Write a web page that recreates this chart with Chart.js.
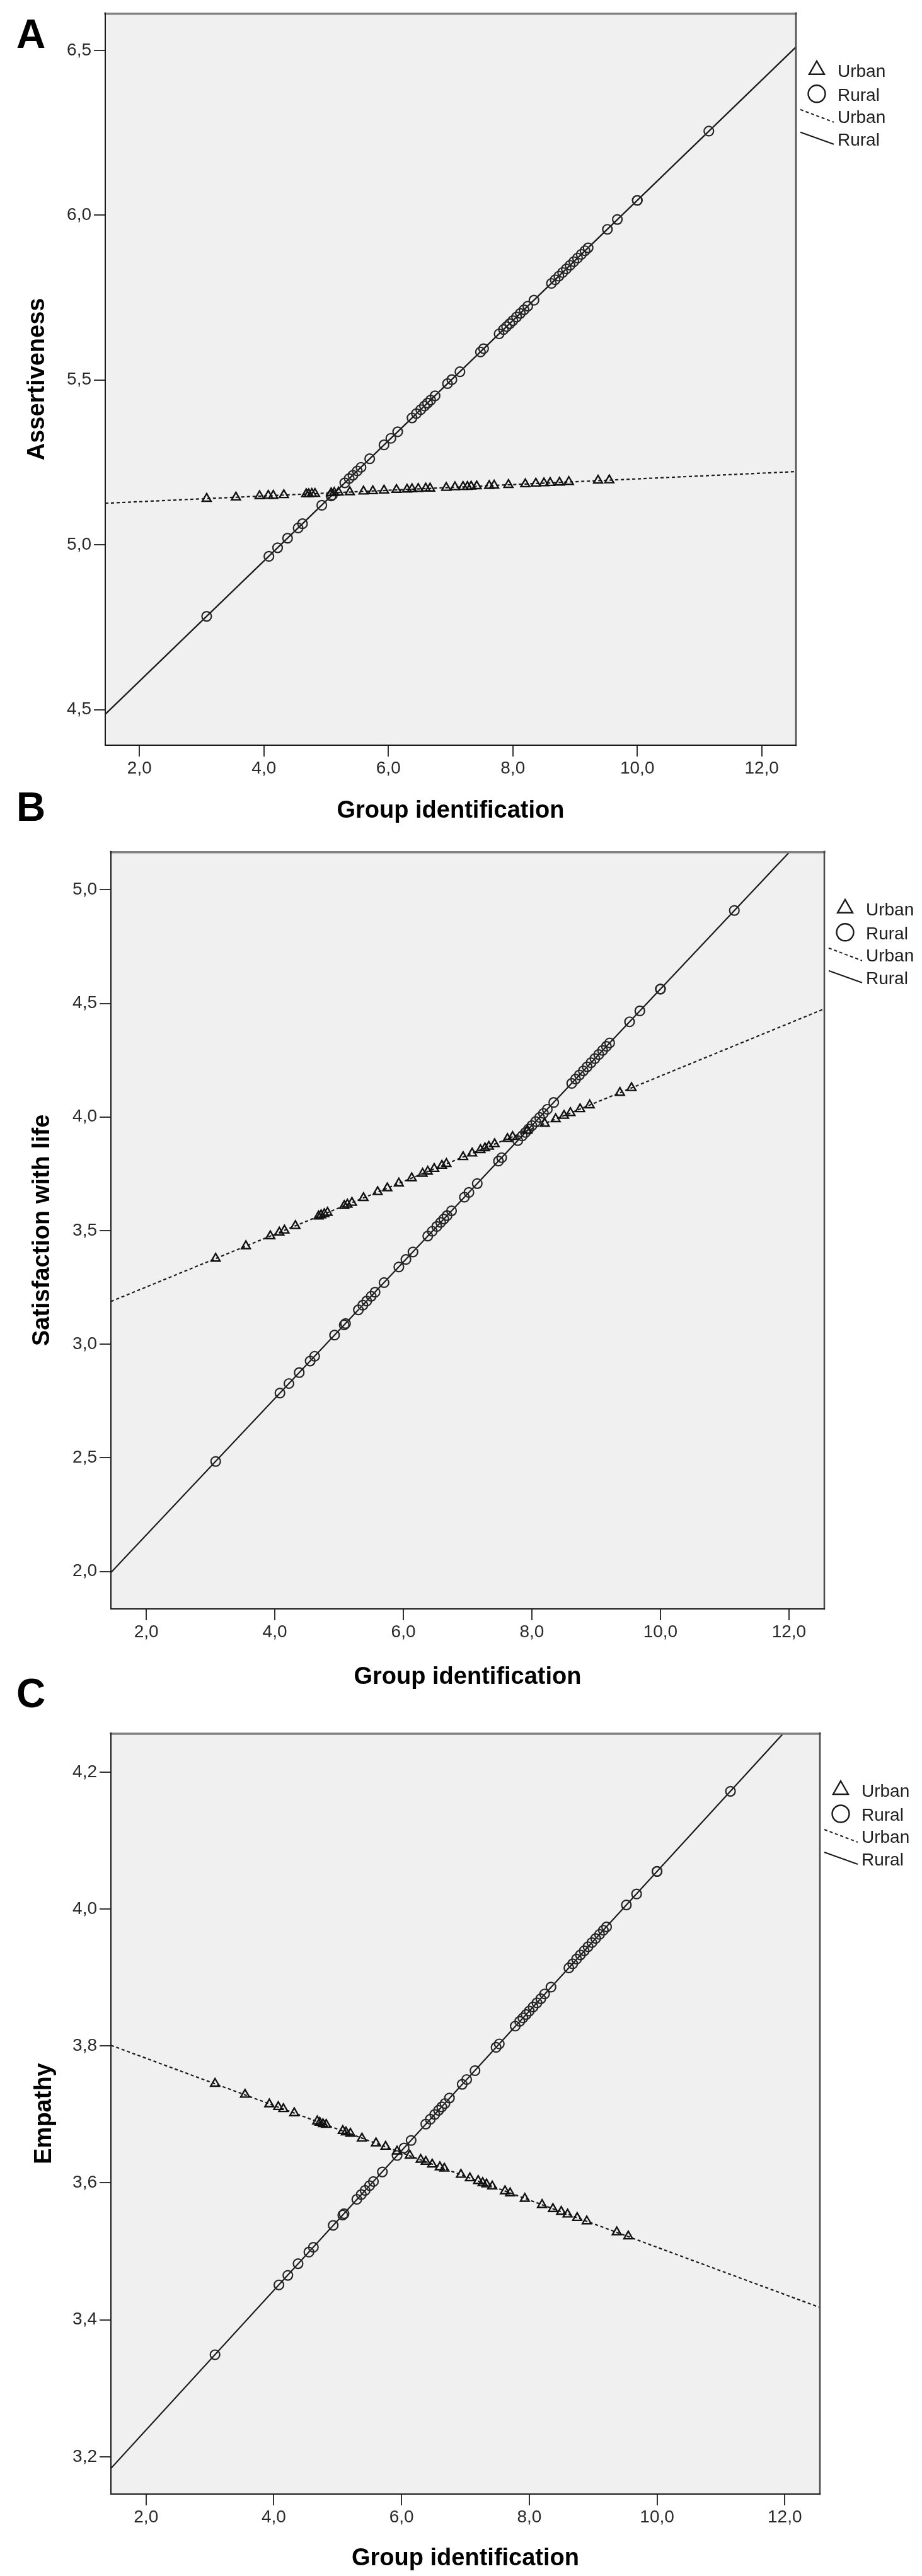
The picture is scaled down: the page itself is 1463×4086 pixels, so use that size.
<!DOCTYPE html>
<html>
<head>
<meta charset="utf-8">
<script src="https://cdn.jsdelivr.net/npm/chart.js@4"></script>
<style>
    html, body { margin: 0; padding: 0; background: #fff; }
    body { position: relative; width: 1463px; height: 4086px; overflow: hidden; }
    .panel { position: absolute; left: 0; width: 1463px; }
    .letter { position: absolute; left: 26px; font: bold 64px/1 "Liberation Sans", Arial, sans-serif; color: #000; }
</style>
</head>
<body>
<div class="letter" style="top:22px">A</div>
<div class="letter" style="top:1248px">B</div>
<div class="letter" style="top:2654px">C</div>
<div class="panel" style="top:0;height:1330px"><canvas id="chartA"></canvas></div>
<div class="panel" style="top:1330px;height:1370px"><canvas id="chartB"></canvas></div>
<div class="panel" style="top:2700px;height:1386px"><canvas id="chartC"></canvas></div>
<script>
    var FONT = '"Liberation Sans", Arial, sans-serif';

    // group identification scores (x) for each participant
    var urbanX = [3.08, 3.55, 3.93, 4.07, 4.15, 4.32, 4.68, 4.72, 4.77, 4.82, 5.08, 5.13, 5.20, 5.38, 5.60, 5.75, 5.93, 6.13, 6.30, 6.38,
                  6.48, 6.60, 6.67, 6.93, 7.07, 7.20, 7.27, 7.33, 7.42, 7.62, 7.70, 7.93, 8.20, 8.37, 8.50, 8.60, 8.75, 8.90, 9.37, 9.55];
    var ruralX = [3.08, 4.08, 4.22, 4.38, 4.55, 4.62, 4.93, 5.08, 5.10, 5.30, 5.37, 5.43, 5.50, 5.56, 5.70, 5.93, 6.04, 6.15, 6.38, 6.45,
                  6.52, 6.58, 6.63, 6.68, 6.75, 6.95, 7.02, 7.15, 7.48, 7.53, 7.78, 7.85, 7.90, 7.95, 8.00, 8.06, 8.12, 8.18, 8.24, 8.34,
                  8.62, 8.68, 8.74, 8.80, 8.86, 8.92, 8.98, 9.04, 9.10, 9.16, 9.21, 9.52, 9.68, 10.00, 10.00, 11.15];

    // A: Assertiveness
    var assertUrban = [5.140, 5.144, 5.148, 5.149, 5.149, 5.151, 5.154, 5.154, 5.155, 5.155, 5.157, 5.158, 5.159, 5.160, 5.162, 5.163, 5.165, 5.167, 5.168, 5.169,
                       5.170, 5.171, 5.171, 5.173, 5.175, 5.176, 5.176, 5.177, 5.178, 5.179, 5.180, 5.182, 5.184, 5.186, 5.187, 5.188, 5.189, 5.191, 5.195, 5.196];
    var assertRural = [4.783, 4.965, 4.991, 5.020, 5.051, 5.064, 5.120, 5.148, 5.151, 5.188, 5.201, 5.211, 5.224, 5.235, 5.261, 5.303, 5.323, 5.343, 5.385, 5.398,
                       5.410, 5.421, 5.430, 5.439, 5.452, 5.489, 5.501, 5.525, 5.585, 5.595, 5.640, 5.653, 5.662, 5.671, 5.680, 5.691, 5.702, 5.713, 5.724, 5.742,
                       5.793, 5.804, 5.815, 5.826, 5.837, 5.848, 5.859, 5.870, 5.881, 5.892, 5.901, 5.957, 5.987, 6.045, 6.045, 6.255];

    // B: Satisfaction with life
    var satisUrban = [3.377, 3.432, 3.476, 3.492, 3.501, 3.521, 3.563, 3.568, 3.573, 3.579, 3.609, 3.615, 3.623, 3.644, 3.670, 3.687, 3.708, 3.731, 3.751, 3.760,
                      3.772, 3.786, 3.794, 3.824, 3.840, 3.855, 3.863, 3.870, 3.881, 3.904, 3.913, 3.940, 3.971, 3.991, 4.006, 4.018, 4.035, 4.052, 4.107, 4.128];
    var satisRural = [2.484, 2.785, 2.827, 2.875, 2.926, 2.947, 3.040, 3.085, 3.091, 3.151, 3.172, 3.190, 3.211, 3.229, 3.271, 3.340, 3.373, 3.406, 3.476, 3.497,
                      3.518, 3.536, 3.551, 3.566, 3.587, 3.647, 3.668, 3.707, 3.806, 3.821, 3.896, 3.917, 3.932, 3.947, 3.962, 3.980, 3.998, 4.016, 4.034, 4.064,
                      4.148, 4.167, 4.185, 4.203, 4.221, 4.239, 4.257, 4.275, 4.293, 4.311, 4.326, 4.419, 4.467, 4.563, 4.563, 4.909];

    // C: Empathy
    var empathyUrban = [3.745, 3.729, 3.715, 3.711, 3.708, 3.702, 3.690, 3.688, 3.686, 3.685, 3.676, 3.674, 3.672, 3.665, 3.658, 3.653, 3.646, 3.640, 3.634, 3.631,
                        3.627, 3.623, 3.621, 3.612, 3.607, 3.603, 3.600, 3.598, 3.595, 3.588, 3.585, 3.577, 3.568, 3.562, 3.558, 3.554, 3.549, 3.544, 3.528, 3.522];
    var empathyRural = [3.349, 3.451, 3.465, 3.482, 3.499, 3.506, 3.538, 3.553, 3.555, 3.576, 3.583, 3.589, 3.596, 3.602, 3.616, 3.640, 3.651, 3.662, 3.686, 3.693,
                        3.700, 3.706, 3.711, 3.716, 3.724, 3.744, 3.751, 3.764, 3.798, 3.803, 3.829, 3.836, 3.841, 3.846, 3.851, 3.857, 3.863, 3.869, 3.876, 3.886,
                        3.914, 3.920, 3.927, 3.933, 3.939, 3.945, 3.951, 3.957, 3.963, 3.969, 3.974, 4.006, 4.022, 4.055, 4.055, 4.172];

    // fit lines, end points at the plot edges
    var fitX = [1.45, 12.55];
    var assertFitUrban = [5.126, 5.222], assertFitRural = [4.486, 6.510];
    var satisFitUrban = [3.188, 4.476], satisFitRural = [1.995, 5.329];
    var empathyFitUrban = [3.801, 3.418], empathyFitRural = [3.183, 4.315];

    var legendLabels = ["Urban", "Rural", "Urban", "Rural"];
    var xTitle = "Group identification";

    function pairs(xs, ys) {
        return xs.map(function(x, i) { return { x: x, y: ys[i] }; });
    }

    function fmt(v) { return Number(v).toFixed(1).replace(".", ","); }

    var framePlugin = {
        id: "frame",
        beforeDatasetsDraw: function(chart) {
            var a = chart.chartArea, ctx = chart.ctx;
            ctx.save();
            ctx.fillStyle = "#f0f0f0";
            ctx.fillRect(a.left, a.top, a.right - a.left, a.bottom - a.top);
            ctx.restore();
        },
        afterDatasetsDraw: function(chart) {
            var a = chart.chartArea, ctx = chart.ctx;
            ctx.save();
            ctx.lineCap = "square";
            ctx.strokeStyle = "#808080"; ctx.lineWidth = 3.5;
            ctx.beginPath(); ctx.moveTo(a.left, a.top + 1); ctx.lineTo(a.right, a.top + 1); ctx.stroke();
            ctx.strokeStyle = "#4a4a4a"; ctx.lineWidth = 2.5;
            ctx.beginPath(); ctx.moveTo(a.right, a.top); ctx.lineTo(a.right, a.bottom); ctx.stroke();
            ctx.strokeStyle = "#1a1a1a"; ctx.lineWidth = 2;
            ctx.beginPath(); ctx.moveTo(a.left, a.top); ctx.lineTo(a.left, a.bottom); ctx.lineTo(a.right, a.bottom); ctx.stroke();
            ctx.restore();
        }
    };

    var legendPlugin = {
        id: "sideLegend",
        afterDraw: function(chart) {
            var a = chart.chartArea, ctx = chart.ctx;
            var x0 = a.right, y0 = a.top, cx = x0 + 33;
            ctx.save();
            ctx.strokeStyle = "#1a1a1a"; ctx.lineWidth = 2.4;
            ctx.beginPath();
            ctx.moveTo(cx, y0 + 76); ctx.lineTo(cx + 12, y0 + 97); ctx.lineTo(cx - 12, y0 + 97); ctx.closePath();
            ctx.stroke();
            ctx.beginPath(); ctx.arc(cx, y0 + 128, 13.5, 0, Math.PI * 2); ctx.stroke();
            ctx.lineWidth = 2;
            ctx.setLineDash([5, 4]);
            ctx.beginPath(); ctx.moveTo(x0 + 7, y0 + 153); ctx.lineTo(x0 + 60, y0 + 173); ctx.stroke();
            ctx.setLineDash([]);
            ctx.beginPath(); ctx.moveTo(x0 + 7, y0 + 189); ctx.lineTo(x0 + 60, y0 + 208); ctx.stroke();
            ctx.fillStyle = "#1e1e1e";
            ctx.font = "28px " + FONT;
            ctx.textAlign = "left"; ctx.textBaseline = "middle";
            var rows = [93, 131, 166, 202];
            legendLabels.forEach(function(t, i) { ctx.fillText(t, x0 + 66, y0 + rows[i]); });
            ctx.restore();
        }
    };

    function makePanel(id, o) {
        var datasets = [
            { label: "Urban fit", data: pairs(fitX, o.fitUrban), showLine: true, pointRadius: 0, borderColor: "#1a1a1a", borderWidth: 2.2, borderDash: [5, 4], order: 3 },
            { label: "Rural fit", data: pairs(fitX, o.fitRural), showLine: true, pointRadius: 0, borderColor: "#1a1a1a", borderWidth: 2.2, order: 2 },
            { label: "Urban", data: pairs(urbanX, o.urban), pointStyle: "triangle", pointRadius: 8, borderColor: "#111", backgroundColor: "rgba(0,0,0,0)", borderWidth: 2.4, order: 1 },
            { label: "Rural", data: pairs(ruralX, o.rural), pointStyle: "circle", pointRadius: 7.5, borderColor: "#262626", backgroundColor: "rgba(0,0,0,0)", borderWidth: 2.2, order: 1 }
        ];

        return new Chart(document.getElementById(id), {
            type: "scatter",
            data: { datasets: datasets },
            options: {
                responsive: true,
                maintainAspectRatio: false,
                animation: false,
                events: [],
                layout: { padding: { top: o.padTop, right: o.padRight, bottom: 0, left: 0 } },
                plugins: { legend: { display: false }, tooltip: { enabled: false } },
                scales: {
                    x: {
                        type: "linear",
                        min: 1.45,
                        max: 12.55,
                        afterFit: function(s) { s.height = o.xHeight; },
                        ticks: { stepSize: 2, includeBounds: false, padding: 2, maxRotation: 0, color: "#2a2a2a", font: { family: FONT, size: 28 }, callback: fmt },
                        grid: { drawOnChartArea: false, drawTicks: true, tickLength: 18, color: "#333", lineWidth: 2 },
                        border: { display: false },
                        title: { display: true, text: xTitle, color: "#000", font: { family: FONT, size: 38, weight: "bold", lineHeight: 1.2 }, padding: { top: 0, bottom: o.xTitlePad } }
                    },
                    y: {
                        type: "linear",
                        min: o.yMin,
                        max: o.yMax,
                        afterFit: function(s) { s.width = o.yWidth; },
                        ticks: { stepSize: o.yStep, includeBounds: false, padding: 4, color: "#2a2a2a", font: { family: FONT, size: 28 }, callback: fmt },
                        grid: { drawOnChartArea: false, drawTicks: true, tickLength: 18, color: "#333", lineWidth: 2 },
                        border: { display: false },
                        title: { display: true, text: o.yTitle, color: "#000", font: { family: FONT, size: 38, weight: "bold", lineHeight: 1.2 }, padding: { top: o.yTitlePad, bottom: 0 } }
                    }
                }
            },
            plugins: [framePlugin, legendPlugin]
        });
    }

    makePanel("chartA", {
        urban: assertUrban, rural: assertRural, fitUrban: assertFitUrban, fitRural: assertFitRural,
        yTitle: "Assertiveness", yMin: 4.392, yMax: 6.613, yStep: 0.5,
        padTop: 5, padRight: 200, yWidth: 167, xHeight: 148, xTitlePad: 21, yTitlePad: 37
    });
    makePanel("chartB", {
        urban: satisUrban, rural: satisRural, fitUrban: satisFitUrban, fitRural: satisFitRural,
        yTitle: "Satisfaction with life", yMin: 1.835, yMax: 5.168, yStep: 0.5,
        padTop: 17, padRight: 155, yWidth: 176, xHeight: 148, xTitlePad: 17, yTitlePad: 45
    });
    makePanel("chartC", {
        urban: empathyUrban, rural: empathyRural, fitUrban: empathyFitUrban, fitRural: empathyFitRural,
        yTitle: "Empathy", yMin: 3.1455, yMax: 4.257, yStep: 0.2,
        padTop: 49, padRight: 162, yWidth: 176, xHeight: 130, xTitlePad: 5, yTitlePad: 48
    });
</script>
</body>
</html>
